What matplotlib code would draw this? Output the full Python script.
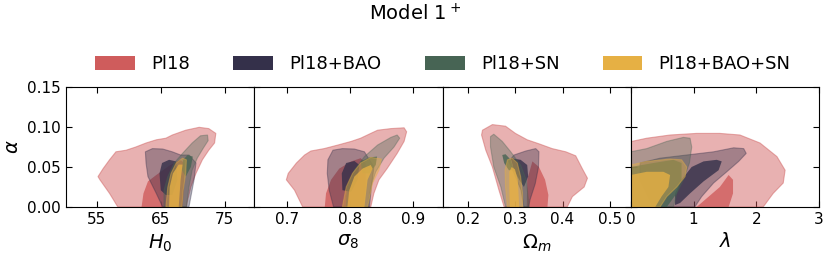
import matplotlib
matplotlib.use("Agg")
import matplotlib.pyplot as plt
from matplotlib.patches import Patch

# contour outlines: (x, alpha) pairs, 68% (inner) and 95% (outer)
labels = ["Pl18", "Pl18+BAO", "Pl18+SN", "Pl18+BAO+SN"]
colors = ["#cf5c5c", "#34304a", "#476454", "#e6b044"]

params = [r"$H_0$", r"$\sigma_8$", r"$\Omega_m$", r"$\lambda$"]
xlims = [(50.2, 79.6), (0.648, 0.947), (0.145, 0.545), (0, 3)]
xticks = [[55, 65, 75], [0.7, 0.8, 0.9], [0.2, 0.3, 0.4, 0.5], [0, 1, 2, 3]]
xticklabels = [["55", "65", "75"], ["0.7", "0.8", "0.9"], ["0.2", "0.3", "0.4", "0.5"], ["0", "1", "2", "3"]]
yticks = [0.0, 0.05, 0.10, 0.15]

# H0 panel
h0_pl18_out = [(58.3, 0), (57.0, 0.017), (55.5, 0.034), (55.2, 0.038), (56.0, 0.048), (57.0, 0.059),
               (58.0, 0.069), (59.6, 0.071), (61.1, 0.075), (62.7, 0.080), (64.3, 0.084), (65.8, 0.086),
               (66.8, 0.090), (68.9, 0.096), (71.0, 0.0996), (72.5, 0.098), (73.6, 0.092), (73.4, 0.080),
               (72.5, 0.071), (71.5, 0.059), (70.5, 0.042), (69.7, 0.025), (69.2, 0.009), (69.0, 0)]
h0_pl18_in = [(62.0, 0), (62.3, 0.017), (63.0, 0.032), (64.3, 0.040), (66.4, 0.052), (68.0, 0.059),
              (68.7, 0.055), (68.7, 0.034), (68.4, 0)]
h0_bao_out = [(65.3, 0), (64.3, 0.017), (63.0, 0.038), (62.7, 0.055), (62.6, 0.069), (63.7, 0.073),
              (65.3, 0.0725), (66.8, 0.069), (68.1, 0.065), (69.4, 0.065), (70.5, 0.055), (70.2, 0.034),
              (69.4, 0)]
h0_bao_in = [(65.0, 0.021), (64.8, 0.042), (65.2, 0.055), (66.3, 0.059), (67.4, 0.057), (67.6, 0.034),
             (66.8, 0.015), (65.8, 0.015)]
h0_sn_out = [(65.5, 0), (65.5, 0.021), (66.1, 0.038), (67.1, 0.055), (68.4, 0.067), (69.9, 0.080),
             (71.2, 0.089), (72.3, 0.090), (72.4, 0.083), (71.6, 0.073), (70.7, 0.061), (69.9, 0.046),
             (69.4, 0.025), (69.0, 0)]
h0_sn_in = [(68.5, 0.059), (69.2, 0.065), (70.0, 0.063), (69.7, 0.050), (68.9, 0.038), (68.3, 0.046)]
h0_all_out = [(65.8, 0), (66.1, 0.025), (66.6, 0.042), (67.4, 0.055), (68.4, 0.061), (69.0, 0.059),
              (68.9, 0.042), (68.5, 0.021), (68.3, 0)]
h0_all_in = [(66.3, 0), (66.4, 0.025), (66.9, 0.042), (67.8, 0.053), (68.4, 0.053), (68.1, 0.034),
             (67.8, 0)]

# sigma8 panel
s8_pl18_out = [(0.725, 0), (0.712, 0.021), (0.699, 0.034), (0.702, 0.042), (0.715, 0.055), (0.728, 0.065),
               (0.738, 0.070), (0.759, 0.073), (0.781, 0.0775), (0.802, 0.082), (0.817, 0.086),
               (0.833, 0.092), (0.844, 0.096), (0.865, 0.098), (0.886, 0.099), (0.890, 0.094),
               (0.886, 0.082), (0.875, 0.067), (0.859, 0.048), (0.846, 0.034), (0.838, 0.017), (0.833, 0)]
s8_pl18_in = [(0.760, 0), (0.762, 0.017), (0.770, 0.034), (0.783, 0.048), (0.802, 0.057), (0.817, 0.061),
              (0.825, 0.055), (0.825, 0.025), (0.822, 0)]
s8_bao_out = [(0.774, 0), (0.767, 0.021), (0.764, 0.042), (0.765, 0.059), (0.773, 0.071), (0.788, 0.073),
              (0.807, 0.0725), (0.823, 0.069), (0.838, 0.050), (0.834, 0.025), (0.831, 0)]
s8_bao_in = [(0.788, 0.021), (0.787, 0.042), (0.794, 0.055), (0.807, 0.0575), (0.815, 0.0525),
             (0.812, 0.034), (0.802, 0.019)]
s8_sn_out = [(0.794, 0), (0.796, 0.025), (0.807, 0.046), (0.823, 0.063), (0.844, 0.0775), (0.865, 0.087),
             (0.875, 0.090), (0.879, 0.086), (0.870, 0.075), (0.854, 0.061), (0.841, 0.044),
             (0.833, 0.025), (0.829, 0)]
s8_sn_in = [(0.817, 0.057), (0.831, 0.062), (0.843, 0.063), (0.841, 0.0525), (0.831, 0.042), (0.820, 0.042)]
s8_all_out = [(0.788, 0), (0.794, 0.025), (0.804, 0.042), (0.817, 0.055), (0.833, 0.062), (0.850, 0.060),
              (0.846, 0.046), (0.836, 0.030), (0.828, 0)]
s8_all_in = [(0.796, 0), (0.799, 0.021), (0.807, 0.038), (0.820, 0.048), (0.833, 0.0525), (0.836, 0.048),
             (0.828, 0.034), (0.823, 0)]

# Omega_m panel
om_pl18_out = [(0.276, 0), (0.265, 0.021), (0.251, 0.050), (0.237, 0.071), (0.228, 0.090), (0.230, 0.096),
               (0.251, 0.103), (0.279, 0.101), (0.300, 0.092), (0.325, 0.084), (0.350, 0.079),
               (0.378, 0.073), (0.407, 0.069), (0.428, 0.064), (0.442, 0.048), (0.453, 0.036),
               (0.446, 0.025), (0.421, 0.013), (0.410, 0)]
om_pl18_in = [(0.324, 0), (0.325, 0.034), (0.336, 0.057), (0.350, 0.050), (0.363, 0.034), (0.370, 0.015),
              (0.368, 0)]
om_bao_out = [(0.318, 0), (0.312, 0.021), (0.297, 0.042), (0.286, 0.057), (0.297, 0.065), (0.322, 0.070),
              (0.343, 0.073), (0.350, 0.069), (0.349, 0.050), (0.342, 0.029), (0.331, 0.009), (0.328, 0)]
om_bao_in = [(0.290, 0.061), (0.311, 0.059), (0.325, 0.0525), (0.327, 0.038), (0.318, 0.025),
             (0.308, 0.034), (0.297, 0.046)]
om_sn_out = [(0.279, 0), (0.269, 0.025), (0.254, 0.050), (0.247, 0.075), (0.247, 0.088), (0.254, 0.091),
             (0.272, 0.082), (0.290, 0.069), (0.311, 0.0525), (0.323, 0.034), (0.329, 0)]
om_sn_in = [(0.272, 0.065), (0.279, 0.066), (0.290, 0.059), (0.297, 0.046), (0.286, 0.046), (0.276, 0.055)]
om_all_out = [(0.283, 0), (0.279, 0.025), (0.278, 0.046), (0.283, 0.059), (0.293, 0.061), (0.304, 0.055),
              (0.311, 0.038), (0.315, 0.017), (0.315, 0)]
om_all_in = [(0.288, 0), (0.287, 0.025), (0.287, 0.044), (0.292, 0.050), (0.299, 0.047), (0.305, 0.034),
             (0.308, 0)]

# lambda panel
la_pl18_out = [(0, 0), (0, 0.0817), (0.255, 0.086), (0.627, 0.090), (1.05, 0.092), (1.42, 0.092),
               (1.74, 0.090), (2.06, 0.080), (2.33, 0.063), (2.46, 0.046), (2.43, 0.030), (2.27, 0.017),
               (2.11, 0)]
la_pl18_in = [(1.05, 0), (1.42, 0.025), (1.56, 0.040), (1.63, 0.034), (1.63, 0.017), (1.56, 0)]
la_bao_out = [(0.36, 0), (0.149, 0.034), (0.149, 0.055), (0.467, 0.061), (0.892, 0.065), (1.32, 0.069),
              (1.64, 0.074), (1.80, 0.073), (1.84, 0.067), (1.72, 0.057), (1.53, 0.044), (1.32, 0.030),
              (1.13, 0.013), (1.02, 0)]
la_bao_in = [(0.706, 0.017), (0.81, 0.034), (0.97, 0.050), (1.16, 0.057), (1.37, 0.059), (1.45, 0.057),
             (1.40, 0.046), (1.16, 0.032), (0.945, 0.017), (0.786, 0.005), (0.706, 0.0025)]
la_sn_out = [(0, 0), (0, 0.069), (0.255, 0.073), (0.574, 0.082), (0.839, 0.087), (0.945, 0.086),
             (0.972, 0.075), (0.935, 0.055), (0.839, 0.034), (0.733, 0.017), (0.68, 0)]
la_sn_in = [(0, 0), (0, 0.050), (0.361, 0.055), (0.68, 0.059), (0.81, 0.055), (0.81, 0.034),
            (0.733, 0.017), (0.574, 0)]
la_all_out = [(0, 0), (0, 0.0525), (0.255, 0.057), (0.627, 0.060), (0.81, 0.059), (0.892, 0.050),
              (0.866, 0.038), (0.733, 0.025), (0.574, 0.013), (0.467, 0)]
la_all_in = [(0, 0), (0, 0.040), (0.255, 0.044), (0.52, 0.044), (0.627, 0.040), (0.60, 0.025),
             (0.49, 0.013), (0.39, 0)]

panels = [
    [(h0_pl18_out, h0_pl18_in), (h0_bao_out, h0_bao_in), (h0_sn_out, h0_sn_in), (h0_all_out, h0_all_in)],
    [(s8_pl18_out, s8_pl18_in), (s8_bao_out, s8_bao_in), (s8_sn_out, s8_sn_in), (s8_all_out, s8_all_in)],
    [(om_pl18_out, om_pl18_in), (om_bao_out, om_bao_in), (om_sn_out, om_sn_in), (om_all_out, om_all_in)],
    [(la_pl18_out, la_pl18_in), (la_bao_out, la_bao_in), (la_sn_out, la_sn_in), (la_all_out, la_all_in)],
]
outer_alpha = [0.48, 0.38, 0.36, 0.42]

fig, axes = plt.subplots(1, 4, figsize=(8.3, 2.58), dpi=100)
fig.subplots_adjust(left=66 / 830, right=819 / 830, bottom=1 - 207 / 258, top=1 - 87 / 258, wspace=0)

for i, ax in enumerate(axes):
    for (outer, inner), c, a in zip(panels[i], colors, outer_alpha):
        xo, yo = zip(*outer)
        xi, yi = zip(*inner)
        ax.fill(xo, yo, facecolor=c, edgecolor=c, alpha=a, lw=0.8, zorder=2)
        ax.fill(xi, yi, facecolor=c, edgecolor="none", alpha=0.8, zorder=2)
    ax.set_xlim(xlims[i])
    ax.set_ylim(0, 0.15)
    ax.set_xticks(xticks[i])
    ax.set_xticklabels(xticklabels[i])
    ax.set_yticks(yticks)
    ax.tick_params(direction="in", top=True, right=True, labelsize=11, length=4)
    ax.set_xlabel(params[i], fontsize=14)
    if i == 0:
        ax.set_yticklabels(["0.00", "0.05", "0.10", "0.15"])
        ax.set_ylabel(r"$\alpha$", fontsize=14)
    else:
        ax.set_yticklabels([])

handles = [Patch(facecolor=c, edgecolor="none") for c in colors]
fig.legend(handles, labels, loc="center", bbox_to_anchor=(443 / 830, 1 - 64 / 258), ncol=4,
           frameon=False, fontsize=13, handlelength=2.2, handleheight=0.8,
           handletextpad=0.9, columnspacing=2.4)
fig.suptitle(r"Model 1$^+$", fontsize=14, y=1 - 14 / 258, va="center")

fig.savefig("out.png", dpi=100)
